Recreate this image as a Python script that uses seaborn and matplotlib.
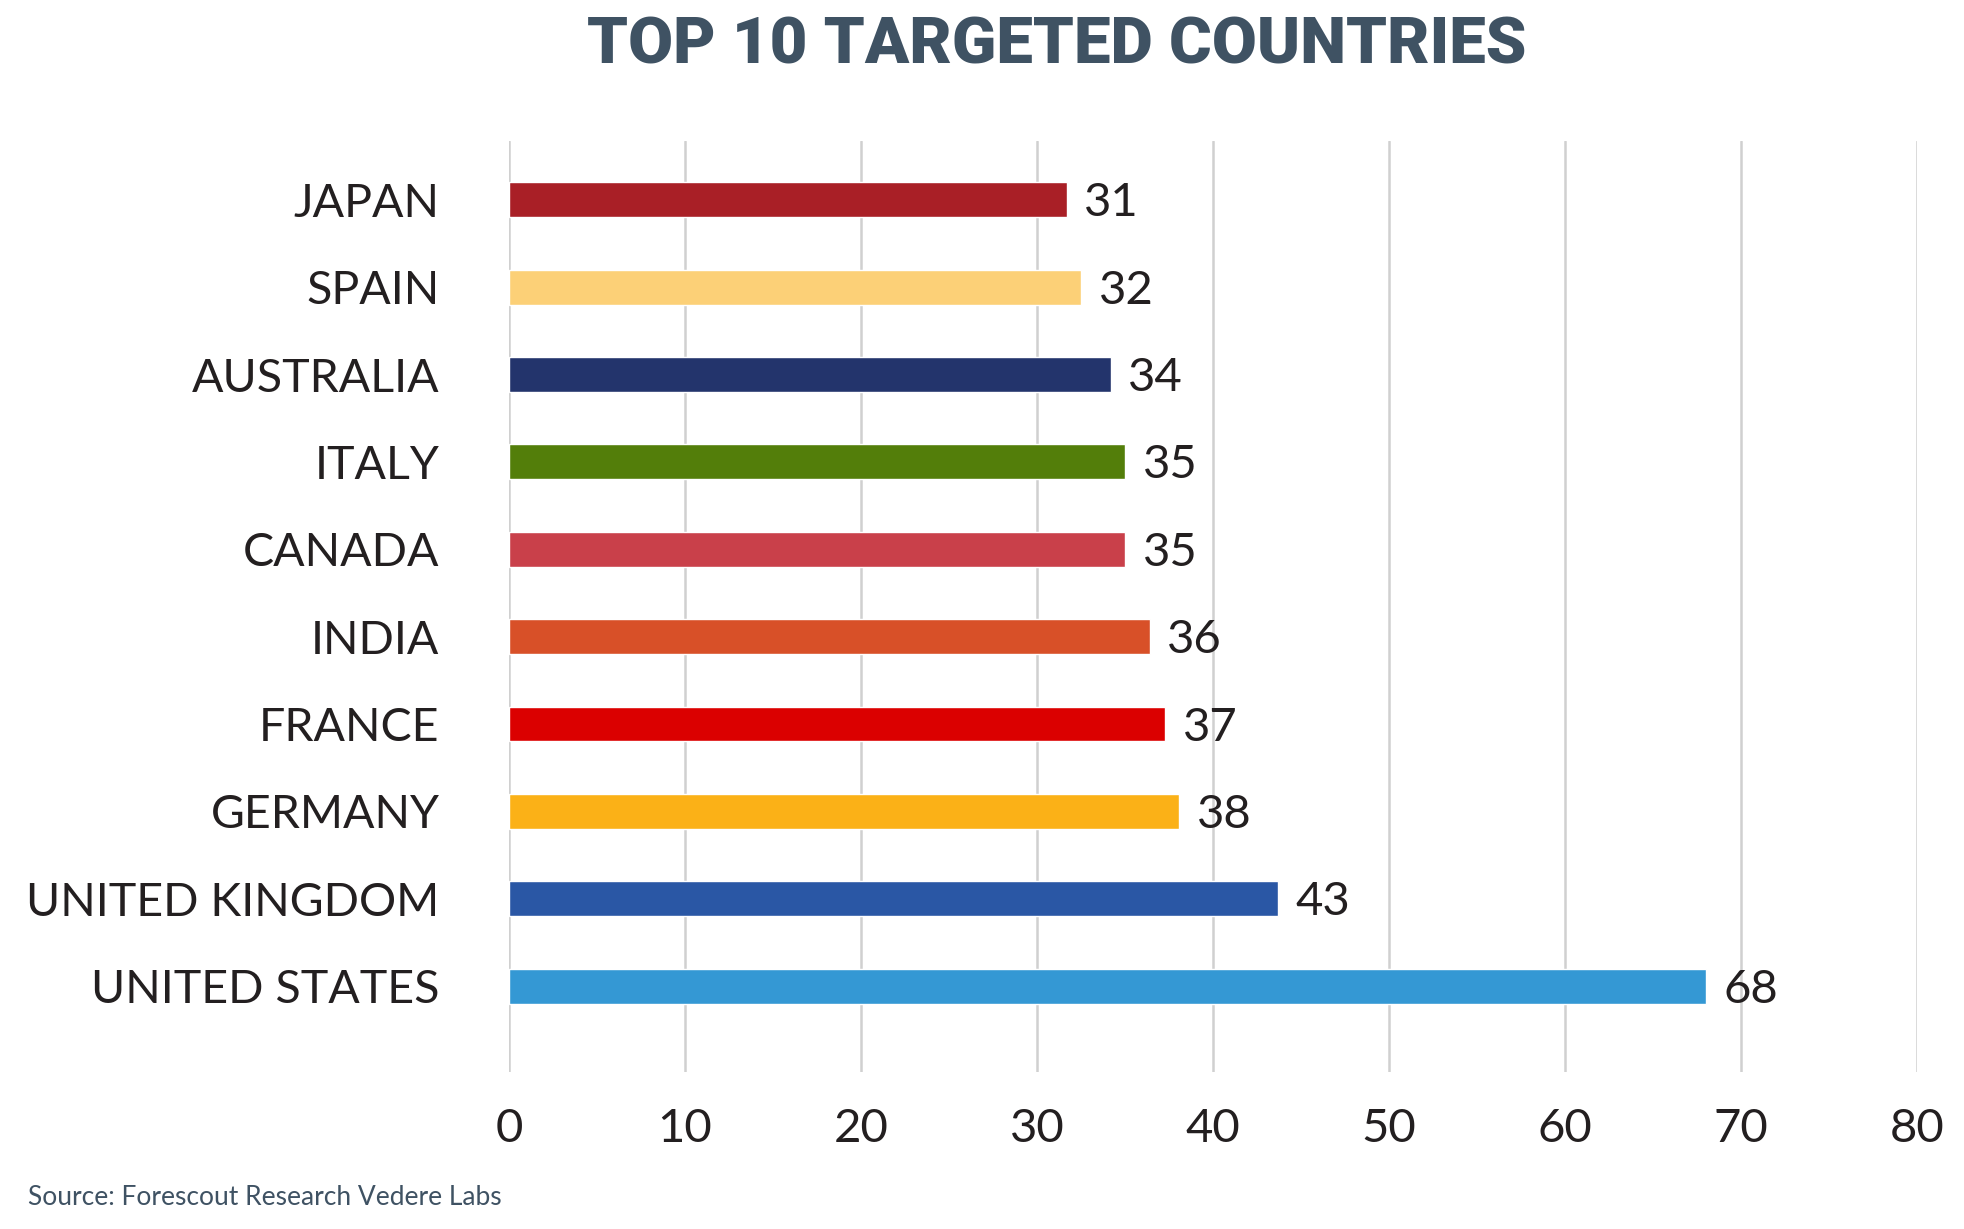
import matplotlib
matplotlib.use("Agg")
import matplotlib.pyplot as plt
import seaborn as sns
import pandas as pd

# ----------------------------------------------------------
# Data
# ----------------------------------------------------------
countries = ["JAPAN", "SPAIN", "AUSTRALIA", "ITALY", "CANADA",
             "INDIA", "FRANCE", "GERMANY", "UNITED KINGDOM", "UNITED STATES"]
values = [31.7, 32.5, 34.2, 35.0, 35.0, 36.4, 37.3, 38.1, 43.7, 68.0]
labels = ["31", "32", "34", "35", "35", "36", "37", "38", "43", "68"]
bar_colors = ["#A91F26", "#FCD077", "#23346C", "#537E0A", "#C9404A",
              "#D85028", "#DB0000", "#FBB117", "#2A57A5", "#3498D4"]
x_ticks = [0, 10, 20, 30, 40, 50, 60, 70, 80]

df = pd.DataFrame({"country": countries, "value": values})

sns.set_theme(style="white")
plt.rcParams["font.family"] = ["Lato", "DejaVu Sans"]

TEXT = "#231F20"
SLATE = "#3F5263"

fig = plt.figure(figsize=(19.65, 12.29), dpi=100)
ax = fig.add_axes([0.259, 0.128, 0.7165, 0.757])

sns.barplot(data=df, x="value", y="country", hue="country",
            palette=bar_colors, orient="h", width=0.4,
            legend=False, ax=ax, saturation=1)

# value labels at the bar ends
for i, (v, lab) in enumerate(zip(values, labels)):
    ax.text(v + 1.0, i + 0.04, lab, va="center", ha="left",
            fontsize=34, color=TEXT)

ax.set_xlim(0, 80)
ax.set_ylim(9.98, -0.67)
ax.set_xticks(x_ticks)
ax.xaxis.grid(True, color="#D0D0D0", linewidth=1.8)
ax.set_axisbelow(True)
for s in ax.spines.values():
    s.set_visible(False)
ax.tick_params(axis="x", length=0, pad=26, labelsize=34, labelcolor=TEXT)
ax.tick_params(axis="y", length=0, pad=50, labelsize=33.5, labelcolor=TEXT)
ax.set_xlabel("")
ax.set_ylabel("")

fig.text(0.538, 0.963, "TOP 10 TARGETED COUNTRIES", ha="center", va="center",
         fontsize=47, fontweight="heavy", color=SLATE, family=["Roboto", "DejaVu Sans"])
fig.text(0.014, 0.026, "Source: Forescout Research Vedere Labs", ha="left", va="center",
         fontsize=19, color=SLATE)

fig.savefig("out.png", dpi=100)
